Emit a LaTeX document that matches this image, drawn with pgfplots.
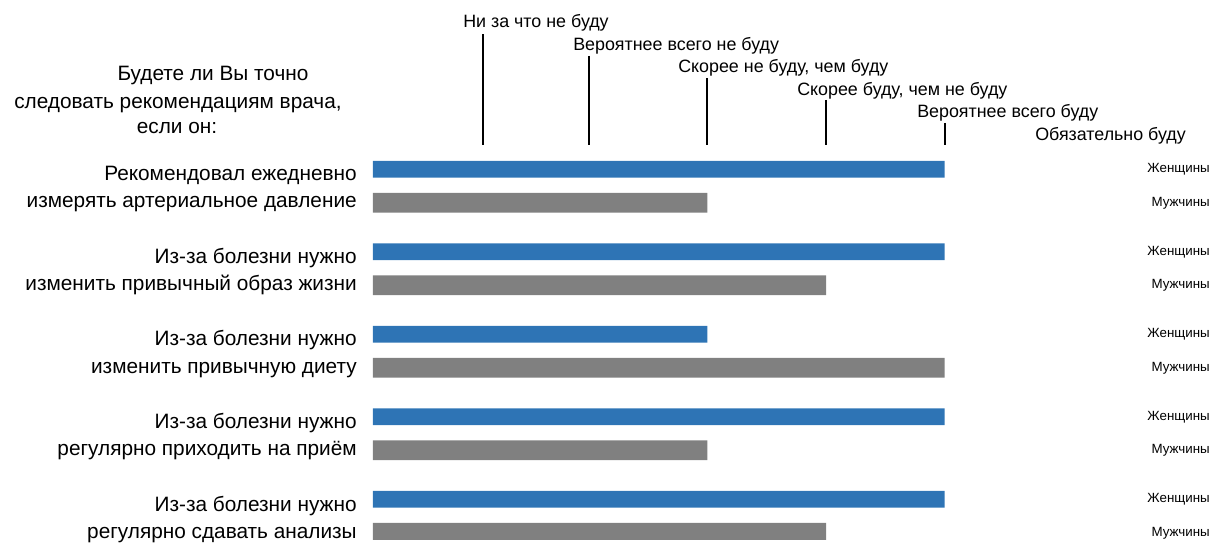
\documentclass[border=0pt]{standalone}
\usepackage{fontspec}
\setmainfont{Liberation Sans}
\usepackage{pgfplots}
\pgfplotsset{compat=1.18}
\definecolor{fem}{RGB}{46,116,181}
\definecolor{mal}{RGB}{128,128,128}
\newcommand{\bigf}{\fontsize{15.6pt}{18pt}\selectfont}
\newcommand{\topf}{\fontsize{13.4pt}{16pt}\selectfont}
\newcommand{\smallf}{\fontsize{10pt}{12pt}\selectfont}
\begin{document}
\begin{tikzpicture}
\begin{axis}[
  at={(0,0)}, anchor=south west,
  scale only axis, width=628.5pt, height=404.25pt,
  xmin=0.18, xmax=7.246, ymin=-1.2545, ymax=5.2788, y dir=reverse,
  axis lines=none, clip mode=individual,
  xbar,
]
\addplot[xbar, fill=fem, draw=none, bar width=0.205, bar shift=-0.203]
  coordinates {(5,1) (5,2) (3,3) (5,4) (5,5)};
\addplot[xbar, fill=mal, draw=none, bar width=0.24, bar shift=0.203]
  coordinates {(3,1) (4,2) (5,3) (3,4) (4,5)};
% scale reference lines
\draw[line width=1.5pt] (axis cs:1.11,-0.842) -- (axis cs:1.11,0.503);
\draw[line width=1.5pt] (axis cs:2,-0.576) -- (axis cs:2,0.503);
\draw[line width=1.5pt] (axis cs:3,-0.309) -- (axis cs:3,0.503);
\draw[line width=1.5pt] (axis cs:4,-0.0424) -- (axis cs:4,0.503);
\draw[line width=1.5pt] (axis cs:5,0.236) -- (axis cs:5,0.503);
\end{axis}
\pgfresetboundingbox
\path (0,0) ++(-279.75pt,0) rectangle (628.5pt,404.25pt);
\begin{scope}[x=0.75pt,y=-0.75pt,shift={(-279.75pt,404.25pt)}]
  % header question
  \node[anchor=base,inner sep=0] at (213,81) {\bigf Будете ли Вы точно};
  \node[anchor=base,inner sep=0] at (178,109) {\bigf следовать рекомендациям врача,};
  \node[anchor=base,inner sep=0] at (177,134) {\bigf если он:};
  % scale labels
  \node[anchor=base west,inner sep=0] at (463,28) {\topf Ни за что не буду};
  \node[anchor=base west,inner sep=0] at (573,51) {\topf Вероятнее всего не буду};
  \node[anchor=base west,inner sep=0] at (678,73) {\topf Скорее не буду, чем буду};
  \node[anchor=base west,inner sep=0] at (797,96) {\topf Скорее буду, чем не буду};
  \node[anchor=base west,inner sep=0] at (917,118) {\topf Вероятнее всего буду};
  \node[anchor=base west,inner sep=0] at (1035,141) {\topf Обязательно буду};
  % row labels
  \foreach \a/\b/\yy in {Рекомендовал ежедневно/измерять артериальное давление/0,
      Из-за болезни нужно/изменить привычный образ жизни/82.5,
      Из-за болезни нужно/изменить привычную диету/165,
      Из-за болезни нужно/регулярно приходить на приём/247.5,
      Из-за болезни нужно/регулярно сдавать анализы/330}{
    \node[anchor=base east,inner sep=0] at (357,181+\yy) {\bigf \a};
    \node[anchor=base east,inner sep=0] at (357,208+\yy) {\bigf \b};
    \node[anchor=east,inner sep=0] at (1210,169.5+\yy) {\smallf Женщины};
    \node[anchor=east,inner sep=0] at (1210,203+\yy) {\smallf Мужчины};
  }
\end{scope}
\end{tikzpicture}
\end{document}
